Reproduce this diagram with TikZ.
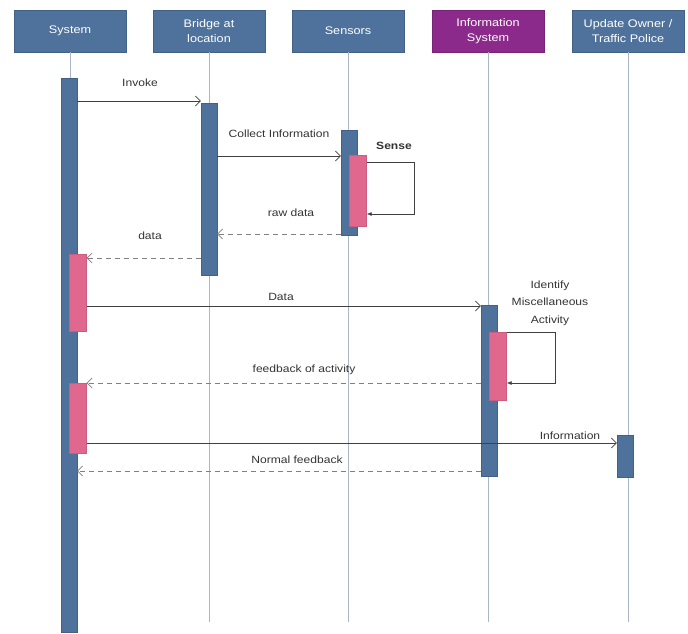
\documentclass[tikz,border=0pt]{standalone}
\usepackage{fontspec}
\setmainfont[FakeStretch=1.15]{Liberation Sans}
\usetikzlibrary{arrows.meta,positioning,calc}
\definecolor{headblue}{RGB}{78,114,156}
\definecolor{headpurple}{RGB}{140,42,140}
\definecolor{actpink}{RGB}{224,104,142}
\definecolor{lifegray}{RGB}{170,182,198}
\begin{document}
\begin{tikzpicture}[x=1pt,y=-1pt,
  head/.style={draw=headblue!85!black,fill=headblue,text=white,minimum width=112pt,minimum height=42pt,align=center,inner sep=1pt,font=\fontsize{11}{15}\selectfont},
  act/.style={fill=headblue,draw=headblue!85!black,minimum width=16pt,inner sep=0pt,anchor=north},
  pinkact/.style={fill=actpink,draw=actpink!90!black,minimum width=17pt,inner sep=0pt,anchor=north},
  life/.style={draw=lifegray,line width=0.7pt},
  msg/.style={draw=black!75,line width=0.6pt,-{Straight Barb[length=5pt,width=10pt]}},
  ret/.style={msg,draw=black!50,dash pattern=on 5pt off 4pt},
  self/.style={draw=black!75,line width=0.6pt,-{Latex[length=5pt,width=4pt]}},
  lbl/.style={font=\fontsize{10.5}{17.5}\selectfont,text=black!80,align=center,inner sep=1pt}]
\useasboundingbox (0,0) rectangle (688,633);
% participants
\node[head] (sys) at (70,31) {System};
\node[head] (bridge) at (209,31) {Bridge at\\location};
\node[head] (sensors) at (348,31) {Sensors};
\node[head,fill=headpurple,draw=headpurple!85!black] (info) at (488,31) {Information\\System};
\node[head] (owner) at (628,31) {Update Owner /\\Traffic Police};
% lifelines
\draw[life] (sys.south) -- ++(0,575);
\draw[life] (bridge.south) -- ++(0,570);
\draw[life] (sensors.south) -- ++(0,570);
\draw[life] (info.south) -- ++(0,570);
\draw[life] (owner.south) -- ++(0,570);
% activations
\node[act,minimum height=554pt] (sysA) at (69,78) {};
\node[act,minimum height=172pt] (bridgeA) at (209,103) {};
\node[act,minimum height=105pt] (sensA) at (349,130) {};
\node[pinkact,minimum height=71pt] (sensP) at (358,155) {};
\node[pinkact,minimum height=77pt] (sysP1) at (78,254) {};
\node[act,minimum height=171pt] (infoA) at (489,305) {};
\node[pinkact,minimum height=68pt] (infoP) at (498,332) {};
\node[pinkact,minimum height=70pt] (sysP2) at (78,383) {};
\node[act,minimum height=42pt] (ownerA) at (625,435) {};
% messages
\draw[msg] (sysA.east |- 0,101) -- (bridgeA.west |- 0,101);
\node[lbl] (invoke) at (140,83) {Invoke};
\draw[msg] (bridgeA.east |- 0,156) -- (sensA.west |- 0,156);
\node[lbl] (collect) at (279,134) {Collect Information};
\draw[self] (sensP.east |- 0,162) -| ([xshift=48pt]sensP.east |- 0,214) -- (sensP.east |- 0,214);
\node[lbl,font=\fontsize{10.5}{12}\selectfont\bfseries] (sense) at (394,146) {Sense};
\draw[ret] (sensA.west |- 0,234) -- (bridgeA.east |- 0,234);
\node[lbl] (raw) at (291,213) {raw data};
\draw[ret] (bridgeA.west |- 0,258) -- (sysP1.east |- 0,258);
\node[lbl] (data) at (150,236) {data};
\draw[msg] (sysP1.east |- 0,306) -- (infoA.west |- 0,306);
\node[lbl] (bigdata) at (281,297) {Data};
\draw[self] (infoP.east |- 0,332) -| ([xshift=49pt]infoP.east |- 0,383) -- (infoP.east |- 0,383);
\node[lbl] (identify) at (550,303) {Identify\\Miscellaneous\\Activity};
\draw[ret] (infoA.west |- 0,383) -- (sysP2.east |- 0,383);
\node[lbl] (feedback) at (304,370) {feedback of activity};
\draw[msg] (sysP2.east |- 0,443) -- (ownerA.west |- 0,443);
\node[lbl] (information) at (570,436) {Information};
\draw[ret] (infoA.west |- 0,471) -- (sysA.east |- 0,471);
\node[lbl] (normal) at (297,460) {Normal feedback};
\end{tikzpicture}
\end{document}
